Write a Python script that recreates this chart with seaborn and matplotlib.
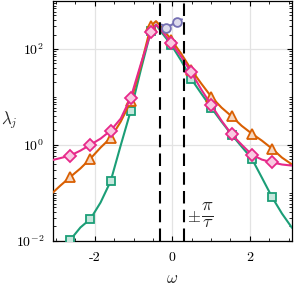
import numpy as np
import pandas as pd
import matplotlib
matplotlib.use("Agg")
import matplotlib.pyplot as plt
import matplotlib.ticker as mticker
from matplotlib.colors import to_rgb
import seaborn as sns

# frequency grid
omega = [-3.15, -2.89, -2.63, -2.37, -2.11, -1.85, -1.59, -1.33, -1.07, -0.81,
         -0.55, -0.42, -0.29, -0.03, 0.23, 0.49, 0.75, 1.01, 1.27, 1.53,
         1.79, 2.05, 2.31, 2.57, 2.83, 3.09]
omega_markers = [-2.63, -2.11, -1.59, -1.07, -0.55, -0.03, 0.49, 1.01, 1.53, 2.05, 2.57]

lam_green = [0.0025, 0.005, 0.0105, 0.019, 0.0287, 0.063, 0.175, 0.98, 5.2, 37,
             240, 323, 229, 123, 57, 23.7, 11.7, 5.9, 3.05, 1.64,
             0.92, 0.52, 0.209, 0.0826, 0.037, 0.0186]
lam_orange = [0.09, 0.141, 0.215, 0.323, 0.519, 0.88, 1.4, 3.05, 8.1, 45,
              305, 380, 292, 156, 80, 37, 18.9, 10, 6.0, 3.95,
              2.5, 1.72, 1.23, 0.84, 0.543, 0.39]
lam_pink = [0.47, 0.53, 0.60, 0.76, 1.01, 1.35, 1.99, 3.53, 9.7, 49,
            226, 321, 252, 133, 69, 32.6, 14.2, 6.7, 3.2, 1.66,
            1.01, 0.628, 0.494, 0.434, 0.39, 0.37]

omega_purple = [-0.27, -0.16, 0.12, 0.25]
lam_purple = [321, 278, 365, 414]
purple_markers = [-0.16, 0.12]

tau = 10.0

sns.set_theme(style="ticks")
plt.rcParams["font.family"] = "cmr10"
plt.rcParams["mathtext.fontset"] = "cm"
plt.rcParams["axes.unicode_minus"] = False
plt.rcParams["axes.formatter.use_mathtext"] = True

fig = plt.figure(figsize=(2.95, 2.85), dpi=100)
ax = fig.add_axes([0.178, 0.155, 0.812, 0.8415])


def light(c, a=0.25):
    r = np.array(to_rgb(c))
    return tuple(1 - a * (1 - r))


def draw(x, y, marks, color, marker, ms):
    df = pd.DataFrame({"omega": x, "lam": y})
    idx = [i for i, v in enumerate(x) if any(abs(v - m) < 1e-6 for m in marks)]
    sns.lineplot(data=df, x="omega", y="lam", ax=ax, color=color, lw=1.5,
                 marker=marker, markevery=idx, ms=ms, mfc=light(color),
                 mec=color, mew=1.3, estimator=None, sort=False, zorder=3)


draw(omega, lam_green, omega_markers, "#1b9e77", "s", 5.8)
draw(omega, lam_orange, omega_markers, "#d95f02", "^", 7.5)
draw(omega, lam_pink, omega_markers, "#e7298a", "D", 5.8)
draw(omega_purple, lam_purple, purple_markers, "#7570b3", "o", 6.3)

for s in (-1, 1):
    ax.axvline(s * np.pi / tau, color="black", lw=1.5, dashes=(6, 3), zorder=4)

# annotation for the dashed lines
ax.text(0.56, 0.031, r"$\pm$", fontsize=12, ha="center", va="center")
ax.text(0.90, 0.034, r"$\frac{\pi}{\tau}$", fontsize=19, ha="center", va="center")

ax.set_yscale("log")
ax.set_xlim(-3.09, 3.09)
ax.set_ylim(1e-2, 1e3)
ax.xaxis.set_major_locator(mticker.FixedLocator([-2, 0, 2]))
ax.xaxis.set_major_formatter(mticker.FixedFormatter(["-2", "0", "2"]))
ax.xaxis.set_minor_locator(mticker.MultipleLocator(0.5))
ax.yaxis.set_major_locator(mticker.FixedLocator([1e-2, 1e0, 1e2]))
ax.yaxis.set_major_formatter(mticker.LogFormatterSciNotation())
ax.yaxis.set_minor_locator(mticker.LogLocator(base=10, subs=np.arange(1, 10), numticks=20))
ax.yaxis.set_minor_formatter(mticker.NullFormatter())

ax.tick_params(which="both", direction="in", top=True, right=True, labelsize=10, colors="black")
ax.tick_params(which="major", length=3.5, width=0.8)
ax.tick_params(which="minor", length=2, width=0.6)
ax.tick_params(axis="x", pad=8)
ax.tick_params(axis="y", pad=6)
ax.grid(True, which="major", color="#e3e3e3", lw=0.9, zorder=0)
for sp in ax.spines.values():
    sp.set_color("black")
    sp.set_linewidth(0.9)

ax.set_xlabel(r"$\omega$", fontsize=12, labelpad=5)
ax.set_ylabel("")
ax.text(-0.18, 0.505, r"$\lambda_j$", fontsize=12, ha="center", va="center",
        transform=ax.transAxes)

fig.savefig("out.png", dpi=100)
